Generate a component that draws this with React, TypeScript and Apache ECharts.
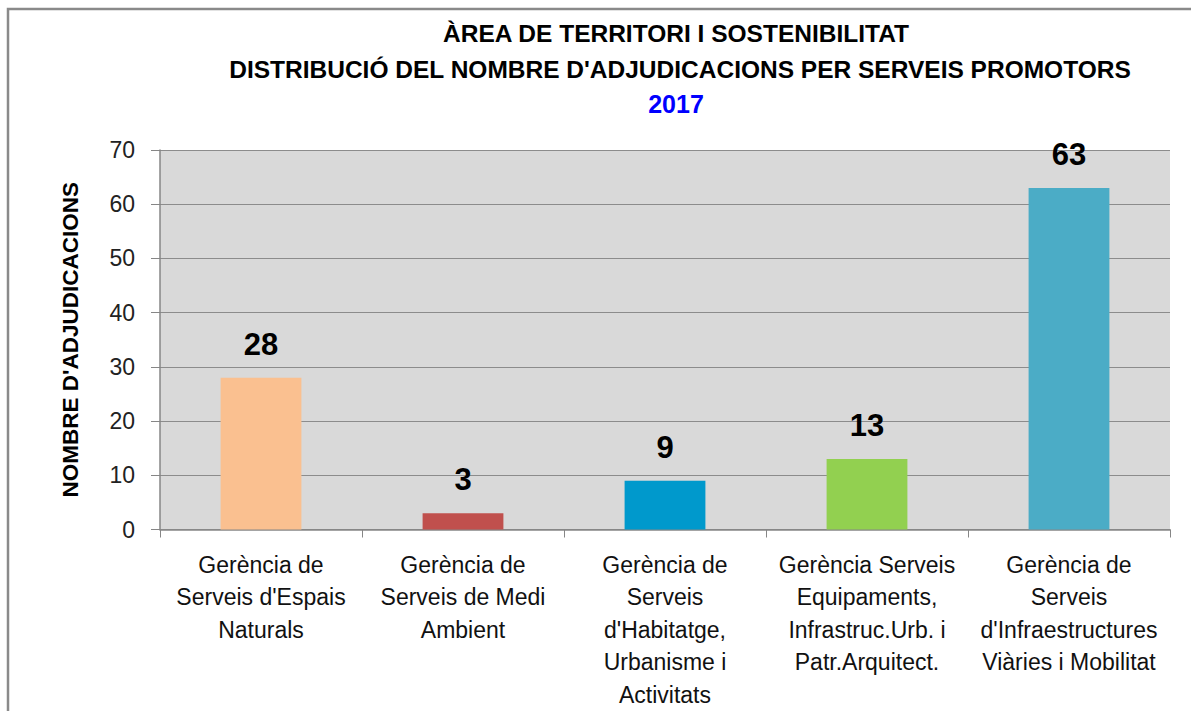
import React, { useEffect, useRef } from "react";
import * as echarts from "echarts";

const categories = [
  "Gerència de\nServeis d'Espais\nNaturals",
  "Gerència de\nServeis de Medi\nAmbient",
  "Gerència de\nServeis\nd'Habitatge,\nUrbanisme i\nActivitats",
  "Gerència Serveis\nEquipaments,\nInfrastruc.Urb. i\nPatr.Arquitect.",
  "Gerència de\nServeis\nd'Infraestructures\nViàries i Mobilitat",
];
const values = [28, 3, 9, 13, 63];
const barColors = ["#fac090", "#c0504d", "#0099cc", "#92d050", "#4bacc6"];
const titleLines = [
  "ÀREA DE TERRITORI I SOSTENIBILITAT",
  "DISTRIBUCIÓ DEL NOMBRE D'ADJUDICACIONS PER SERVEIS PROMOTORS",
  "2017",
];
const yAxisName = "NOMBRE D'ADJUDICACIONS";

const FONT = "'Liberation Sans', Arial, sans-serif";

export default function App() {
  const ref = useRef<HTMLDivElement>(null);
  useEffect(() => {
    if (!ref.current) return;
    const chart = echarts.init(ref.current, null, { renderer: "svg" });
    chart.setOption({
      animation: false,
      textStyle: { fontFamily: FONT },
      grid: {
        left: 160,
        right: 21,
        top: 150,
        bottom: 181,
        show: true,
        backgroundColor: "#d9d9d9",
        borderWidth: 0,
      },
      graphic: [
        {
          type: "polyline",
          shape: { points: [[8, 711], [8, 9], [1191, 9]] },
          style: { stroke: "#8a8a8a", lineWidth: 2.5, fill: "none" },
          silent: true,
        },
        {
          type: "text",
          x: 676,
          y: 33,
          style: {
            text: titleLines[0],
            textAlign: "center",
            textVerticalAlign: "middle",
            font: `bold 24.5px ${FONT}`,
            fill: "#000",
          },
        },
        {
          type: "text",
          x: 680,
          y: 69,
          style: {
            text: titleLines[1],
            textAlign: "center",
            textVerticalAlign: "middle",
            font: `bold 24.5px ${FONT}`,
            fill: "#000",
          },
        },
        {
          type: "text",
          x: 676,
          y: 104,
          style: {
            text: titleLines[2],
            textAlign: "center",
            textVerticalAlign: "middle",
            font: `bold 25px ${FONT}`,
            fill: "#0000ff",
          },
        },
      ],
      xAxis: {
        type: "category",
        data: categories,
        axisLine: { show: true, lineStyle: { color: "#868686", width: 1.5 } },
        axisTick: { show: true, length: 8, lineStyle: { color: "#868686" } },
        axisLabel: {
          fontSize: 23,
          lineHeight: 32.5,
          color: "#111",
          margin: 19,
          interval: 0,
          fontFamily: FONT,
        },
      },
      yAxis: {
        type: "value",
        min: 0,
        max: 70,
        interval: 10,
        name: yAxisName,
        nameLocation: "middle",
        nameRotate: 90,
        nameGap: 78,
        nameTextStyle: {
          fontSize: 22.5,
          fontWeight: "bold",
          color: "#000",
          fontFamily: FONT,
        },
        axisLine: { show: true, lineStyle: { color: "#868686", width: 1.5 } },
        axisTick: { show: true, length: 9, lineStyle: { color: "#868686" } },
        axisLabel: {
          fontSize: 23,
          color: "#222",
          margin: 25,
          fontFamily: FONT,
        },
        splitLine: { show: true, lineStyle: { color: "#8c8c8c", width: 1.2 } },
      },
      series: [
        {
          type: "bar",
          data: values.map((v, i) => ({ value: v, itemStyle: { color: barColors[i] } })),
          barWidth: "40%",
          label: {
            show: true,
            position: "top",
            distance: 18,
            fontSize: 31,
            fontWeight: "bold",
            color: "#000",
            fontFamily: FONT,
          },
        },
      ],
    });
    return () => chart.dispose();
  }, []);
  return (
    <div
      ref={ref}
      style={{ position: "fixed", left: 0, top: 0, width: 1191, height: 711, background: "#fff" }}
    />
  );
}
